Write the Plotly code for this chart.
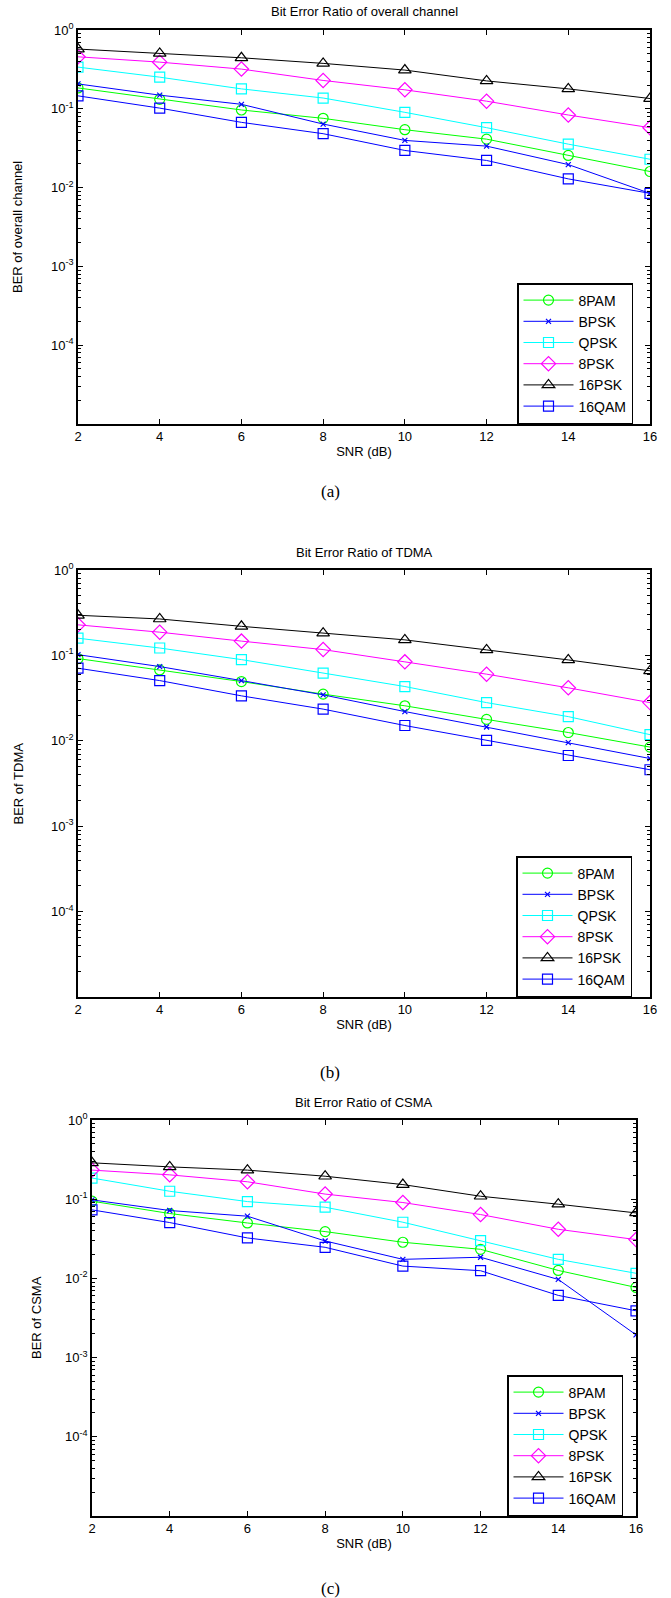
import plotly.graph_objects as go

W, H = 671, 1598

snr_db = [2, 4, 6, 8, 10, 12, 14, 16]
series_names = ["8PAM", "BPSK", "QPSK", "8PSK", "16PSK", "16QAM"]

# (a) overall channel
overall_8pam = [0.184, 0.132, 0.0966, 0.0757, 0.0543, 0.0412, 0.0256, 0.0160]
overall_bpsk = [0.207, 0.149, 0.114, 0.064, 0.0397, 0.0336, 0.0196, 0.00845]
overall_qpsk = [0.338, 0.252, 0.179, 0.137, 0.0902, 0.0576, 0.0356, 0.0229]
overall_8psk = [0.457, 0.391, 0.319, 0.229, 0.174, 0.125, 0.0834, 0.0576]
overall_16psk = [0.573, 0.505, 0.444, 0.377, 0.310, 0.226, 0.179, 0.135]
overall_16qam = [0.146, 0.102, 0.0673, 0.0483, 0.0296, 0.0221, 0.0129, 0.00845]

# (b) TDMA
tdma_8pam = [0.0918, 0.0676, 0.0494, 0.0352, 0.0257, 0.0178, 0.0125, 0.00844]
tdma_bpsk = [0.102, 0.074, 0.0507, 0.0345, 0.0220, 0.0145, 0.0095, 0.0062]
tdma_qpsk = [0.159, 0.122, 0.0893, 0.0619, 0.0432, 0.0280, 0.0192, 0.0118]
tdma_8psk = [0.228, 0.187, 0.147, 0.117, 0.084, 0.0603, 0.0417, 0.0280]
tdma_16psk = [0.295, 0.267, 0.219, 0.182, 0.152, 0.116, 0.0885, 0.0659]
tdma_16qam = [0.0708, 0.0507, 0.0336, 0.0235, 0.0151, 0.0101, 0.00673, 0.00458]

# (c) CSMA
csma_8pam = [0.0944, 0.0659, 0.0501, 0.0390, 0.0286, 0.0233, 0.0126, 0.00769]
csma_bpsk = [0.098, 0.072, 0.061, 0.0297, 0.0174, 0.0185, 0.0097, 0.00194]
csma_qpsk = [0.185, 0.126, 0.0933, 0.0792, 0.0512, 0.0300, 0.0174, 0.0116]
csma_8psk = [0.233, 0.203, 0.166, 0.116, 0.0908, 0.0640, 0.0417, 0.0309]
csma_16psk = [0.288, 0.256, 0.233, 0.195, 0.153, 0.109, 0.0865, 0.0671]
csma_16qam = [0.0733, 0.0507, 0.0324, 0.0247, 0.0143, 0.0125, 0.0061, 0.0039]

titles = ["Bit Error Ratio of overall channel", "Bit Error Ratio of TDMA", "Bit Error Ratio of CSMA"]
ylabels = ["BER of overall channel", "BER of TDMA", "BER of CSMA"]
captions = ["(a)", "(b)", "(c)"]
ytick_vals = [1, 0.1, 0.01, 0.001, 0.0001]
ytick_text = ["10<sup>0</sup>", "10<sup>-1</sup>", "10<sup>-2</sup>", "10<sup>-3</sup>", "10<sup>-4</sup>"]

charts = [
    [overall_8pam, overall_bpsk, overall_qpsk, overall_8psk, overall_16psk, overall_16qam],
    [tdma_8pam, tdma_bpsk, tdma_qpsk, tdma_8psk, tdma_16psk, tdma_16qam],
    [csma_8pam, csma_bpsk, csma_qpsk, csma_8psk, csma_16psk, csma_16qam],
]

styles = [
    dict(color="#00ff00", symbol="circle-open", size=10),
    dict(color="#0000ff", symbol="x-thin-open", size=5),
    dict(color="#00ffff", symbol="square-open", size=10),
    dict(color="#ff00ff", symbol="diamond-open", size=11),
    dict(color="#000000", symbol="triangle-up-open", size=11),
    dict(color="#0000ff", symbol="square-open", size=10),
]

# pixel boxes: (left, right, top, bottom)
boxes = [(78, 650, 30, 424), (78, 650, 570, 997), (92, 636, 1120, 1516)]
legend_boxes = [(517, 424), (516, 997), (507, 1516)]
title_y = [12, 553, 1102]
caption_y = [492, 1072, 1588]
ylabel_x = [18, 18, 36]

FONT = "Liberation Sans, Arial, sans-serif"

minor_vals = []
for e in range(-5, 0):
    for m in range(2, 10):
        minor_vals.append(m * 10 ** e)

fig = go.Figure()
layout = dict(
    width=W, height=H, margin=dict(l=0, r=0, t=0, b=0),
    paper_bgcolor="white", plot_bgcolor="white",
    font=dict(family=FONT, size=13, color="black"),
    showlegend=True,
)
annotations = []

for i in range(3):
    suffix = "" if i == 0 else str(i + 1)
    xa = "x" + suffix
    ya = "y" + suffix
    leg = "legend" if i == 0 else "legend" + str(i + 1)
    for j, name in enumerate(series_names):
        st = styles[j]
        fig.add_trace(go.Scatter(
            x=snr_db, y=charts[i][j], name=name, mode="lines+markers",
            xaxis=xa, yaxis=ya, legend=leg,
            line=dict(color=st["color"], width=1),
            marker=dict(symbol=st["symbol"], size=st["size"], color=st["color"],
                        line=dict(color=st["color"], width=1.2)),
        ))
    l, r, t, b = boxes[i]
    layout["xaxis" + suffix] = dict(
        domain=[l / W, r / W], anchor=ya, range=[2, 16], dtick=2, tick0=2,
        showline=True, linecolor="black", linewidth=1.5, mirror="ticks",
        ticks="inside", ticklen=5, tickcolor="black", showgrid=False, zeroline=False,
        tickfont=dict(size=13), automargin=False,
        title=dict(text="SNR (dB)", font=dict(size=13), standoff=4),
    )
    layout["yaxis" + suffix] = dict(
        domain=[1 - b / H, 1 - t / H], anchor=xa, type="log", range=[-5, 0],
        tickvals=ytick_vals, ticktext=ytick_text,
        showline=True, linecolor="black", linewidth=1.5, mirror="ticks",
        ticks="inside", ticklen=5, tickcolor="black", showgrid=False, zeroline=False,
        tickfont=dict(size=13), automargin=False,
        minor=dict(tickvals=minor_vals, ticks="inside", ticklen=3, tickcolor="black", showgrid=False),
    )
    lx, lb = legend_boxes[i]
    layout[leg] = dict(
        x=lx / W, y=1 - lb / H, xanchor="left", yanchor="bottom",
        bgcolor="white", bordercolor="black", borderwidth=1.5,
        font=dict(size=14, family=FONT), itemwidth=50, tracegroupgap=0,
    )
    annotations.append(dict(
        text=titles[i], x=(l + r) / 2 / W, y=1 - title_y[i] / H, xref="paper", yref="paper",
        showarrow=False, font=dict(size=13), xanchor="center", yanchor="middle",
    ))
    annotations.append(dict(
        text=ylabels[i], x=ylabel_x[i] / W, y=1 - (t + b) / 2 / H, xref="paper", yref="paper",
        showarrow=False, font=dict(size=13), textangle=-90, xanchor="center", yanchor="middle",
    ))
    annotations.append(dict(
        text=captions[i], x=330 / W, y=1 - caption_y[i] / H, xref="paper", yref="paper",
        showarrow=False, font=dict(size=17, family="Liberation Serif, Times New Roman, serif"),
        xanchor="center", yanchor="middle",
    ))

layout["annotations"] = annotations
fig.update_layout(**layout)
fig.write_html("out.html")
